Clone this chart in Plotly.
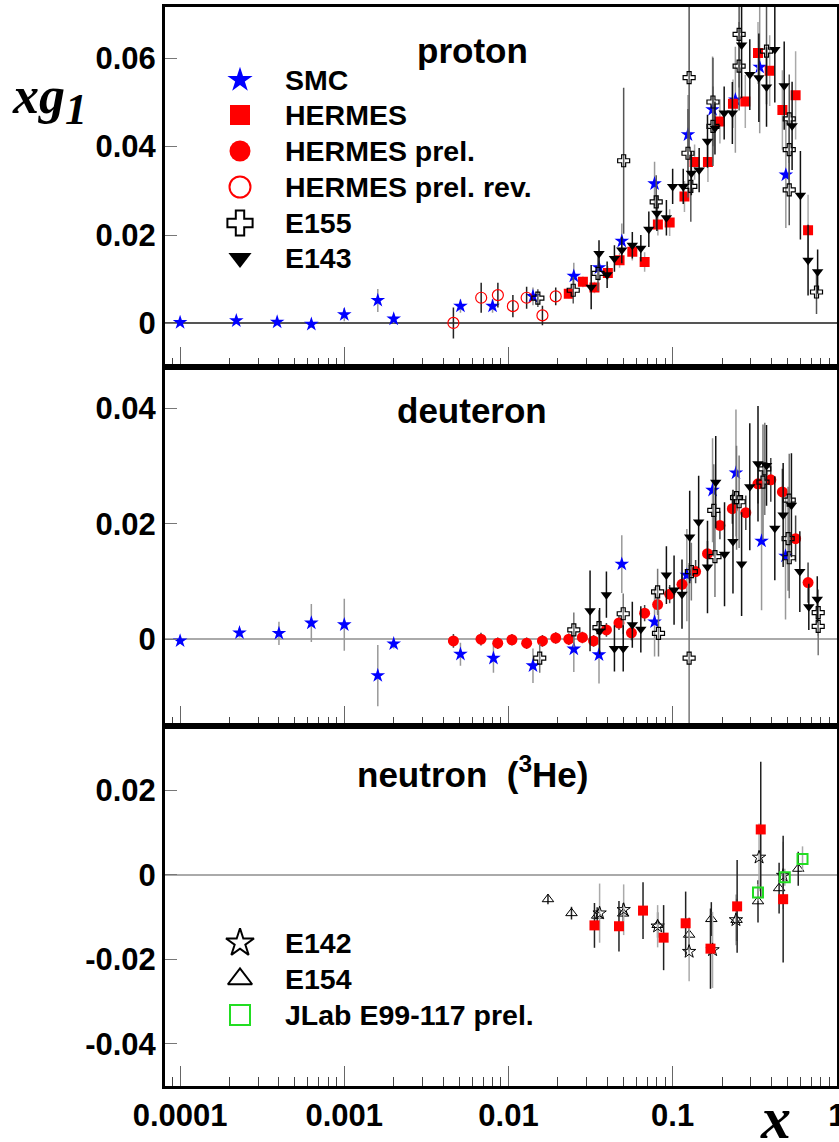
import plotly.graph_objects as go
from plotly.subplots import make_subplots

# ---------------- data ----------------
# proton
p_smc_x = [0.0001, 0.00022, 0.00039, 0.00063, 0.001, 0.0016, 0.002, 0.0051, 0.008, 0.0141, 0.025, 0.0356, 0.049, 0.0776, 0.124, 0.175, 0.241, 0.339, 0.489]
p_smc_y = [0.0002, 0.0006, 0.0003, -0.0002, 0.002, 0.0052, 0.001, 0.0039, 0.0039, 0.0061, 0.0107, 0.0126, 0.0186, 0.0316, 0.0427, 0.0484, 0.0506, 0.058, 0.0336]
p_smc_e = [0.0004, 0.0006, 0.0007, 0.0008, 0.0015, 0.0026, 0.001, 0.0015, 0.0015, 0.002, 0.003, 0.003, 0.004, 0.005, 0.009, 0.012, 0.012, 0.015, 0.012]

p_her_x = [0.0233, 0.0284, 0.0334, 0.0403, 0.0475, 0.0568, 0.0675, 0.0813, 0.0959, 0.118, 0.136, 0.164, 0.194, 0.233, 0.277, 0.331, 0.39, 0.466, 0.561, 0.668]
p_her_y = [0.0067, 0.0094, 0.0081, 0.0114, 0.0143, 0.0162, 0.0139, 0.0224, 0.0228, 0.0287, 0.0365, 0.0365, 0.0457, 0.0497, 0.0502, 0.0612, 0.0572, 0.0483, 0.0516, 0.0211]
p_her_e = [0.001, 0.0012, 0.0013, 0.0015, 0.0017, 0.002, 0.0022, 0.0025, 0.003, 0.0035, 0.004, 0.0045, 0.005, 0.0055, 0.006, 0.007, 0.008, 0.009, 0.01, 0.008]

p_rev_x = [0.00462, 0.00682, 0.00862, 0.01064, 0.0129, 0.0161, 0.0194]
p_rev_y = [0.0001, 0.0058, 0.0064, 0.0039, 0.0058, 0.0018, 0.0061]
p_rev_e = [0.0035, 0.0034, 0.0028, 0.0025, 0.0025, 0.0022, 0.002]

p_e155_x = [0.0151, 0.0248, 0.0351, 0.0503, 0.0794, 0.124, 0.126, 0.129, 0.176, 0.176, 0.254, 0.254, 0.373, 0.513, 0.513, 0.513, 0.752]
p_e155_y = [0.0057, 0.0075, 0.0113, 0.0368, 0.0275, 0.0385, 0.0556, 0.031, 0.0501, 0.0446, 0.0654, 0.0582, 0.0616, 0.0463, 0.0393, 0.0302, 0.0071]
p_e155_e = [0.002, 0.003, 0.004, 0.0165, 0.006, 0.01, 0.016, 0.008, 0.01, 0.009, 0.012, 0.01, 0.012, 0.01, 0.008, 0.008, 0.005]

p_e143_x = [0.0319, 0.0356, 0.0399, 0.0442, 0.049, 0.0568, 0.064, 0.0716, 0.0802, 0.0916, 0.1, 0.116, 0.13, 0.145, 0.163, 0.181, 0.206, 0.231, 0.263, 0.295, 0.335, 0.373, 0.419, 0.478, 0.534, 0.6, 0.668, 0.764]
p_e143_y = [0.0082, 0.0158, 0.011, 0.0147, 0.0166, 0.0177, 0.017, 0.0213, 0.0249, 0.0239, 0.031, 0.031, 0.034, 0.0347, 0.0412, 0.0442, 0.0476, 0.0476, 0.063, 0.0563, 0.0556, 0.0535, 0.062, 0.0538, 0.0447, 0.029, 0.0143, 0.0117]
p_e143_e = [0.005, 0.003, 0.003, 0.003, 0.003, 0.003, 0.003, 0.004, 0.004, 0.004, 0.004, 0.004, 0.005, 0.005, 0.006, 0.006, 0.006, 0.007, 0.012, 0.008, 0.01, 0.009, 0.012, 0.01, 0.01, 0.01, 0.008, 0.005]

# deuteron
d_smc_x = [0.0001, 0.00023, 0.0004, 0.00063, 0.001, 0.0016, 0.002, 0.0051, 0.0081, 0.0141, 0.025, 0.0356, 0.049, 0.0776, 0.122, 0.175, 0.243, 0.348, 0.487]
d_smc_y = [-0.0003, 0.0011, 0.001, 0.0028, 0.0025, -0.0063, -0.0008, -0.0026, -0.0033, -0.0046, -0.0017, -0.0027, 0.013, 0.003, 0.0111, 0.0258, 0.0288, 0.017, 0.0144]
d_smc_e = [0.0004, 0.0008, 0.002, 0.0033, 0.0045, 0.0053, 0.0008, 0.002, 0.0025, 0.003, 0.004, 0.005, 0.005, 0.006, 0.008, 0.009, 0.011, 0.012, 0.011]

d_pre_x = [0.00462, 0.0068, 0.0086, 0.0105, 0.0129, 0.0161, 0.0194, 0.0233, 0.0282, 0.033, 0.0395, 0.0471, 0.0561, 0.0675, 0.081, 0.0959, 0.114, 0.138, 0.163, 0.194, 0.231, 0.279, 0.331, 0.396, 0.466, 0.561, 0.668]
d_pre_y = [-0.0003, 0.0, -0.0007, -0.0001, -0.0007, -0.0003, 0.0002, 0.0, 0.0003, -0.0003, 0.0016, 0.0028, 0.0011, 0.0045, 0.006, 0.0078, 0.0095, 0.0117, 0.0148, 0.0197, 0.0226, 0.0219, 0.0269, 0.0276, 0.0255, 0.0174, 0.0098]
d_pre_e = [0.0012, 0.0011, 0.001, 0.001, 0.001, 0.001, 0.001, 0.001, 0.001, 0.001, 0.0012, 0.0012, 0.0013, 0.0014, 0.0015, 0.0016, 0.0018, 0.002, 0.0022, 0.0024, 0.0026, 0.003, 0.0034, 0.0038, 0.004, 0.004, 0.0035]

d_e155_x = [0.0155, 0.025, 0.0356, 0.05, 0.081, 0.082, 0.126, 0.13, 0.178, 0.181, 0.245, 0.254, 0.355, 0.364, 0.505, 0.513, 0.513, 0.77, 0.77]
d_e155_y = [-0.0033, 0.0016, 0.002, 0.0044, 0.0082, 0.001, -0.0033, 0.0117, 0.0223, 0.0143, 0.0245, 0.0238, 0.0272, 0.0295, 0.0174, 0.0141, 0.0241, 0.0046, 0.0022]
d_e155_e = [0.0025, 0.003, 0.003, 0.0035, 0.004, 0.004, 0.0165, 0.005, 0.008, 0.007, 0.009, 0.008, 0.01, 0.008, 0.009, 0.007, 0.008, 0.004, 0.005]

d_e143_x = [0.0314, 0.0359, 0.0395, 0.0442, 0.05, 0.0568, 0.064, 0.0916, 0.102, 0.114, 0.127, 0.144, 0.163, 0.183, 0.207, 0.233, 0.263, 0.295, 0.331, 0.373, 0.419, 0.471, 0.529, 0.595, 0.675, 0.76]
d_e143_y = [0.0049, 0.0014, 0.0077, -0.0016, -0.0016, 0.0025, 0.0017, 0.0111, 0.0085, 0.0078, 0.0177, 0.0203, 0.0125, 0.0272, 0.0147, 0.0169, 0.013, 0.0264, 0.0304, 0.0301, 0.0192, 0.0215, 0.0232, 0.0117, 0.0056, 0.0069]
d_e143_e = [0.007, 0.004, 0.004, 0.004, 0.004, 0.004, 0.004, 0.005, 0.006, 0.006, 0.008, 0.008, 0.008, 0.008, 0.009, 0.009, 0.009, 0.011, 0.01, 0.007, 0.009, 0.009, 0.009, 0.007, 0.004, 0.004]

# neutron (3He)
n_e154_x = [0.0174, 0.0242, 0.0347, 0.05, 0.081, 0.126, 0.172, 0.245, 0.331, 0.445, 0.582]
n_e154_y = [-0.0058, -0.0091, -0.0097, -0.0092, -0.0119, -0.0142, -0.0105, -0.0107, -0.0063, -0.0032, 0.0014]
n_e154_e = [0.0012, 0.0015, 0.002, 0.0025, 0.003, 0.004, 0.004, 0.005, 0.005, 0.006, 0.004]

n_e142_x = [0.0359, 0.0503, 0.081, 0.126, 0.175, 0.243, 0.336, 0.471]
n_e142_y = [-0.0091, -0.0083, -0.0122, -0.0182, -0.0178, -0.0107, 0.0041, -0.0002]
n_e142_e = [0.007, 0.006, 0.005, 0.007, 0.009, 0.006, 0.008, 0.008]

n_her_x = [0.0334, 0.0471, 0.066, 0.0881, 0.12, 0.17, 0.247, 0.344, 0.471]
n_her_y = [-0.012, -0.0122, -0.0085, -0.0149, -0.0115, -0.0175, -0.0075, 0.0107, -0.0058]
n_her_e = [0.0053, 0.006, 0.0067, 0.0077, 0.0075, 0.0095, 0.011, 0.016, 0.015]

n_jlab_x = [0.331, 0.482, 0.618]
n_jlab_y = [-0.0042, -0.0006, 0.0037]
n_jlab_e = [0.002, 0.002, 0.003]

x_tick_vals = [0.0001, 0.001, 0.01, 0.1, 1]
x_tick_text = ["0.0001", "0.001", "0.01", "0.1", "1"]
y1_ticks = [0, 0.02, 0.04, 0.06]
y1_text = ["0", "0.02", "0.04", "0.06"]
y2_ticks = [0, 0.02, 0.04]
y2_text = ["0", "0.02", "0.04"]
y3_ticks = [-0.04, -0.02, 0, 0.02]
y3_text = ["-0.04", "-0.02", "0", "0.02"]

legend_top = ["SMC", "HERMES", "HERMES prel.", "HERMES prel. rev.", "E155", "E143"]
legend_bot = ["E142", "E154", "JLab E99-117 prel."]

# ---------------- layout geometry ----------------
W, H = 839, 1142
ML, MR, MT, MB = 165, 2, 7, 56
PW, PH = W - ML - MR, H - MT - MB

def px(xp):
    return (xp - ML) / PW

def py(yp):
    return (H - MB - yp) / PH

fig = make_subplots(rows=3, cols=1, shared_xaxes=True, vertical_spacing=0)

BLUE = "#0000ff"
RED = "#ff0000"
GREEN = "#22dd22"

STY = {
    "SMC": dict(symbol="star", color=BLUE, size=11, line=dict(width=0)),
    "HERMES": dict(symbol="square", color=RED, size=10, line=dict(width=0)),
    "HERMES prel.": dict(symbol="circle", color=RED, size=11, line=dict(width=0)),
    "HERMES prel. rev.": dict(symbol="circle-open", color=RED, size=11, line=dict(width=1.2, color=RED)),
    "E155": dict(symbol="cross-open", color="black", size=10, line=dict(width=1.2, color="black")),
    "E143": dict(symbol="triangle-down", color="black", size=10, line=dict(width=0)),
    "E142": dict(symbol="star-open", color="black", size=10, line=dict(width=1, color="black")),
    "E154": dict(symbol="triangle-up-open", color="black", size=10, line=dict(width=1, color="black")),
    "JLab E99-117 prel.": dict(symbol="square-open", color=GREEN, size=10, line=dict(width=2, color=GREEN)),
}


def add(row, name, x, y, e, ecolor):
    fig.add_trace(go.Scatter(
        x=x, y=y, mode="markers", name=name, showlegend=False,
        marker=STY[name],
        error_y=dict(type="data", array=e, color=ecolor, thickness=1.5, width=0),
    ), row=row, col=1)


# proton
add(1, "SMC", p_smc_x, p_smc_y, p_smc_e, "#999999")
add(1, "HERMES prel. rev.", p_rev_x, p_rev_y, p_rev_e, "#222222")
add(1, "HERMES", p_her_x, p_her_y, p_her_e, "#aaaaaa")
add(1, "E155", p_e155_x, p_e155_y, p_e155_e, "#555555")
add(1, "E143", p_e143_x, p_e143_y, p_e143_e, "#111111")
# deuteron
add(2, "SMC", d_smc_x, d_smc_y, d_smc_e, "#999999")
add(2, "HERMES prel.", d_pre_x, d_pre_y, d_pre_e, "#444444")
add(2, "E155", d_e155_x, d_e155_y, d_e155_e, "#777777")
add(2, "E143", d_e143_x, d_e143_y, d_e143_e, "#111111")
# neutron
add(3, "E154", n_e154_x, n_e154_y, n_e154_e, "#222222")
add(3, "E142", n_e142_x, n_e142_y, n_e142_e, "#aaaaaa")
add(3, "HERMES", n_her_x, n_her_y, n_her_e, "#222222")
add(3, "JLab E99-117 prel.", n_jlab_x, n_jlab_y, n_jlab_e, "#aaaaaa")

TICKFONT = dict(family="Arial, Liberation Sans", size=31, color="black", weight="bold")
minor_vals = [k * 10.0 ** e for e in range(-5, 0) for k in range(2, 10)]

for r in (1, 2, 3):
    fig.update_xaxes(
        row=r, col=1, type="log", range=[-4.092, 0.001],
        showline=True, mirror=True, linecolor="black", linewidth=3,
        ticks="inside", ticklen=20, tickwidth=1, tickcolor="#666666",
        tickvals=x_tick_vals, ticktext=x_tick_text,
        minor=dict(ticks="inside", ticklen=9, tickwidth=1, tickcolor="#444444",
                   tickvals=minor_vals, showgrid=False),
        showgrid=False, zeroline=False,
        showticklabels=(r == 3), tickfont=TICKFONT,
        ticklabeloverflow="allow", automargin=False,
    )

yranges = {1: [-0.0098, 0.0716], 2: [-0.0151, 0.0472], 3: [-0.05, 0.0351]}
yticks = {1: (y1_ticks, y1_text), 2: (y2_ticks, y2_text), 3: (y3_ticks, y3_text)}
for r in (1, 2, 3):
    fig.update_yaxes(
        row=r, col=1, range=yranges[r],
        showline=True, mirror=True, linecolor="black", linewidth=3,
        ticks="inside", ticklen=12, tickwidth=1, tickcolor="#777777",
        tickvals=yticks[r][0], ticktext=yticks[r][1],
        showgrid=False, zeroline=True,
        zerolinecolor="#555555" if r == 1 else "#aaaaaa", zerolinewidth=1.5,
        tickfont=TICKFONT, automargin=False,
    )

# overlay axes for legend keys, in pixel-like layout units
fig.update_layout(
    xaxis4=dict(domain=[0, 1], range=[ML, W - MR], visible=False, anchor="y4", automargin=False),
    yaxis4=dict(domain=[0, 1], range=[H - MB, MT], visible=False, anchor="x4", automargin=False),
)

LEG_X = 240
TXT_X = 283
top_rows = [80, 115, 151, 187, 223, 258]
bot_rows = [943, 979, 1015]
LEGSZ = {"SMC": 19, "HERMES": 20, "HERMES prel.": 21, "HERMES prel. rev.": 21, "E155": 21,
         "E143": 20, "E142": 21, "E154": 21, "JLab E99-117 prel.": 20}

annotations = []
LEGFONT = dict(family="Arial, Liberation Sans", size=28.5, color="black", weight="bold")
for names, rows in ((legend_top, top_rows), (legend_bot, bot_rows)):
    for nm, yy in zip(names, rows):
        st = dict(STY[nm])
        st["size"] = LEGSZ[nm]
        if "line" in st and st["line"].get("width", 0) > 0:
            st["line"] = dict(color=st["line"]["color"], width=2)
        fig.add_trace(go.Scatter(x=[LEG_X], y=[yy], mode="markers", marker=st,
                                 showlegend=False, hoverinfo="skip",
                                 xaxis="x4", yaxis="y4"))
        annotations.append(dict(x=px(TXT_X), y=py(yy), xref="paper", yref="paper",
                                text=nm, showarrow=False, xanchor="left", yanchor="middle",
                                font=LEGFONT))

TITLEFONT = dict(family="Arial, Liberation Sans", size=35, color="black", weight="bold")
for txt, yy in (("proton", 50), ("deuteron", 410), ("neutron  (<sup>3</sup>He)", 772)):
    annotations.append(dict(x=px(472), y=py(yy), xref="paper", yref="paper", text=txt,
                            showarrow=False, xanchor="center", yanchor="middle", font=TITLEFONT))

annotations.append(dict(x=px(10), y=py(100), xref="paper", yref="paper",
                        text="xg<sub><span style='font-size:44px'>1</span></sub>",
                        showarrow=False, xanchor="left", yanchor="middle",
                        font=dict(family="Liberation Serif, Times New Roman", size=52,
                                  color="black", weight="bold", style="italic")))
annotations.append(dict(x=px(775), y=py(1118), xref="paper", yref="paper",
                        text="x", showarrow=False, xanchor="center", yanchor="middle",
                        font=dict(family="Liberation Serif, Times New Roman", size=60,
                                  color="black", weight="bold", style="italic")))

fig.update_layout(
    width=W, height=H,
    margin=dict(l=ML, r=MR, t=MT, b=MB, autoexpand=False),
    paper_bgcolor="white", plot_bgcolor="rgba(0,0,0,0)",
    showlegend=False,
    annotations=annotations,
)

fig.write_html("out.html")
